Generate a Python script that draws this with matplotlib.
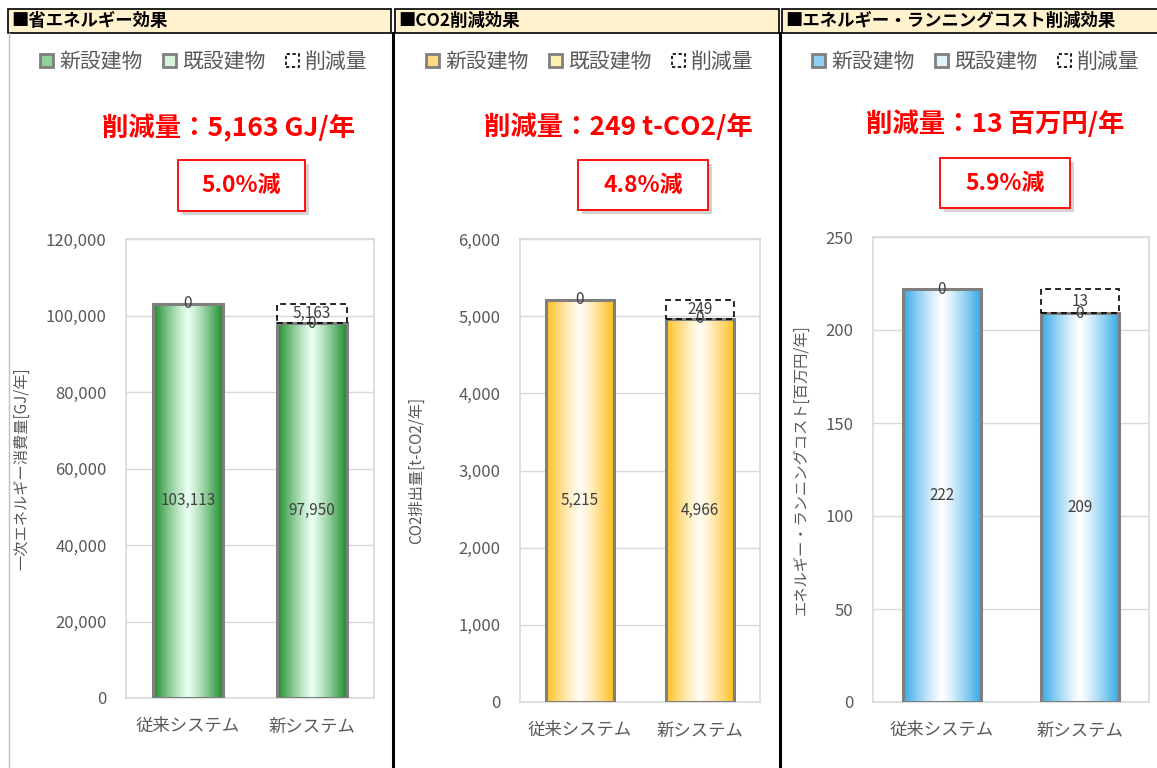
import numpy as np
import matplotlib
matplotlib.use("Agg")
import matplotlib.pyplot as plt
from matplotlib.patches import Rectangle, Patch
from matplotlib.lines import Line2D
from matplotlib.ticker import FuncFormatter

plt.rcParams['font.family'] = ['Noto Sans CJK JP', 'DejaVu Sans']

# --- data ---------------------------------------------------------------
categories = ['従来システム', '新システム']
legend_labels = ['新設建物', '既設建物', '削減量']

energy_new = [103113, 97950]
energy_exist = [0, 0]
energy_cut = [np.nan, 5163]

co2_new = [5215, 4966]
co2_exist = [0, 0]
co2_cut = [np.nan, 249]

cost_new = [222, 209]
cost_exist = [0, 0]
cost_cut = [np.nan, 13]

headers = ['■省エネルギー効果', '■CO2削減効果', '■エネルギー・ランニングコスト削減効果']
red_titles = ['削減量：5,163 GJ/年', '削減量：249 t-CO2/年', '削減量：13 百万円/年']
rate_texts = ['5.0%減', '4.8%減', '5.9%減']
ylabels = ['一次エネルギー消費量[GJ/年]', 'CO2排出量[t-CO2/年]',
           'エネルギー・ランニングコスト[百万円/年]']
yticks = [np.arange(0, 120001, 20000), np.arange(0, 6001, 1000), np.arange(0, 251, 50)]

# --- layout (pixels) ----------------------------------------------------
W, H = 1157, 768
fig = plt.figure(figsize=(W / 100, H / 100), dpi=100)


def fx(x):
    return x / W


def fy(y):
    return 1 - y / H


GREY = '#595959'
panels = [
    dict(new=energy_new, exist=energy_exist, cut=energy_cut, ax=(126, 374, 239, 698),
         dark='#1c8c2a', light='#e8fff0', mid='#8fd19a', pale='#d8f2dc',
         hdr=(8, 391), leg=204, title=(228, 128), box=(178, 305, 160, 211), ylab=30),
    dict(new=co2_new, exist=co2_exist, cut=co2_cut, ax=(520, 760, 239, 702),
         dark='#ffbf1f', light='#fffdf5', mid='#ffd980', pale='#fff2b0',
         hdr=(395, 779), leg=590, title=(618, 127), box=(578, 708, 160, 210), ylab=425),
    dict(new=cost_new, exist=cost_exist, cut=cost_cut, ax=(873, 1149, 237, 702),
         dark='#35a9e8', light='#ffffff', mid='#8fd0f4', pale='#dff2fc',
         hdr=(782, 1160), leg=976, title=(995, 124), box=(940, 1070, 158, 208), ylab=810),
]

# panel frames
fig.add_artist(Line2D([fx(9), fx(9)], [fy(33), 0], color='#bfbfbf', lw=1))
for xl in (393.5, 780):
    fig.add_artist(Line2D([fx(xl), fx(xl)], [fy(33), 0], color='black', lw=2.2))

for i, p in enumerate(panels):
    # header band
    x0, x1 = p['hdr']
    fig.add_artist(Rectangle((fx(x0), fy(33)), fx(x1 - x0), (33 - 9) / H,
                             facecolor='#fff2cc', edgecolor='black', lw=1.2))
    fig.text(fx(x0 + 3), fy(21), headers[i], fontsize=12.5, fontweight='bold',
             va='center', ha='left', color='black')

    # red title
    fig.text(fx(p['title'][0]), fy(p['title'][1]), red_titles[i], color='#ff0000',
             fontsize=19, fontweight='bold', ha='center', va='center')

    # rate box with shadow
    bx0, bx1, by0, by1 = p['box']
    fig.add_artist(Rectangle((fx(bx0 + 4), fy(by1 + 4)), fx(bx1 - bx0), (by1 - by0) / H,
                             facecolor='#a0a0a0', edgecolor='none', alpha=0.45))
    fig.add_artist(Rectangle((fx(bx0), fy(by1)), fx(bx1 - bx0), (by1 - by0) / H,
                             facecolor='white', edgecolor='#ff0000', lw=1.3))
    fig.text(fx((bx0 + bx1) / 2), fy((by0 + by1) / 2), rate_texts[i], color='#ff0000',
             fontsize=16.5, fontweight='bold', ha='center', va='center')

    # axes
    l, r, t, b = p['ax']
    ax = fig.add_axes([fx(l), fy(b), fx(r - l), (b - t) / H])
    x = np.arange(len(categories))
    bw = 0.56

    bars = ax.bar(x, p['new'], bw, facecolor='none', edgecolor='#7f7f7f', lw=2.2, zorder=3)
    # horizontal gradient fill inside each bar
    tt = np.linspace(0, 1, 200)
    wgt = np.abs(tt - 0.5) * 2
    wgt = wgt ** 1.2
    c_dark = np.array(matplotlib.colors.to_rgb(p['dark']))
    c_light = np.array(matplotlib.colors.to_rgb(p['light']))
    grad = (c_light[None, :] * (1 - wgt[:, None]) + c_dark[None, :] * wgt[:, None])[None, :, :]
    for rect in bars:
        rx, ry = rect.get_x(), rect.get_y()
        rw, rh = rect.get_width(), rect.get_height()
        im = ax.imshow(grad, extent=(rx, rx + rw, ry, ry + rh), aspect='auto',
                       interpolation='bilinear', zorder=2)
        clip = Rectangle((rx, ry), rw, rh, transform=ax.transData)
        im.set_clip_path(clip)

    zero = ax.bar(x, p['exist'], bw, bottom=p['new'], color='none', edgecolor='none', zorder=4)
    cut = ax.bar(x, p['cut'], bw, bottom=p['new'], facecolor='none', edgecolor='black',
                 lw=1.2, linestyle=(0, (3.5, 2.5)), zorder=4)

    lab_kw = dict(label_type='center', color='#404040', fontsize=11, zorder=6)
    ax.bar_label(bars, labels=[f'{v:,.0f}' for v in p['new']], **lab_kw)
    ax.bar_label(zero, labels=[f'{v:,.0f}' for v in p['exist']], **lab_kw)
    ax.bar_label(cut, labels=['' if np.isnan(v) else f'{v:,.0f}' for v in p['cut']], **lab_kw)

    ax.set_xlim(-0.5, len(categories) - 0.5)
    ax.set_ylim(yticks[i][0], yticks[i][-1])
    ax.set_yticks(yticks[i])
    ax.yaxis.set_major_formatter(FuncFormatter(lambda v, pos: f'{v:,.0f}'))
    ax.set_xticks(x)
    ax.set_xticklabels(categories)
    ax.tick_params(length=0, colors=GREY, labelsize=12)
    ax.tick_params(axis='x', labelsize=12.5, pad=14)
    ax.tick_params(axis='y', pad=14)
    ax.grid(axis='y', color='#d9d9d9', lw=1)
    ax.set_axisbelow(True)
    for s in ax.spines.values():
        s.set_color('#d9d9d9')
        s.set_linewidth(1.2)

    ax.set_ylabel(ylabels[i], color=GREY, fontsize=11)
    ax.yaxis.set_label_coords((p['ylab'] - l) / (r - l), 0.5)

    handles = [
        Patch(facecolor=p['mid'], edgecolor='#7f7f7f', lw=2),
        Patch(facecolor=p['pale'], edgecolor='#7f7f7f', lw=2),
        Patch(facecolor='none', edgecolor='black', lw=1.2, linestyle=(0, (2, 1.5))),
    ]
    leg = ax.legend(handles, legend_labels, ncol=3, loc='center',
                    bbox_to_anchor=(fx(p['leg']), fy(62)), bbox_transform=fig.transFigure,
                    frameon=False, fontsize=15, handlelength=0.6, handleheight=0.6,
                    handletextpad=0.3, columnspacing=1.0, labelcolor=GREY)

fig.savefig('out.png', dpi=100)
